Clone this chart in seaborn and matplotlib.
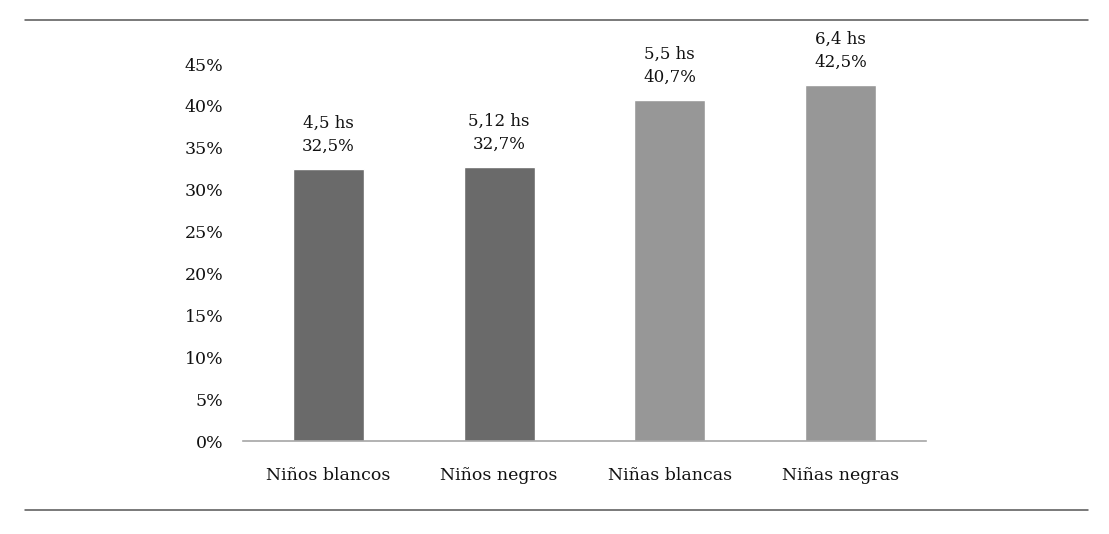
import matplotlib
matplotlib.use("Agg")
import matplotlib.pyplot as plt
import seaborn as sns
import pandas as pd
from matplotlib.ticker import FuncFormatter
from matplotlib.lines import Line2D

categorias = ["Niños blancos", "Niños negros", "Niñas blancas", "Niñas negras"]
porcentajes = [32.5, 32.7, 40.7, 42.5]
horas = ["4,5 hs", "5,12 hs", "5,5 hs", "6,4 hs"]
colores = ["#6a6a6a", "#6a6a6a", "#979797", "#979797"]

df = pd.DataFrame({"Grupo": categorias, "Pct": porcentajes})

sns.set_style("white")
plt.rcParams["font.family"] = ["DejaVu Serif"]

fig = plt.figure(figsize=(11.09, 5.34), dpi=100)
ax = fig.add_axes([243 / 1109, 1 - 441 / 534, 683 / 1109, 377 / 534])

sns.barplot(data=df, x="Grupo", y="Pct", hue="Grupo", palette=colores,
            width=0.415, legend=False, ax=ax, saturation=1)

for i, (p, h) in enumerate(zip(porcentajes, horas)):
    ax.annotate(f"{h}\n{p:.1f}%".replace(".", ","), xy=(i, p), xytext=(0, 10),
                textcoords="offset points", ha="center", va="bottom",
                fontsize=12, color="#111111", linespacing=1.5,
                annotation_clip=False)

ax.set_ylim(0, 45)
ax.set_xlim(-0.5, 3.5)
ax.set_yticks(range(0, 46, 5))
ax.yaxis.set_major_formatter(FuncFormatter(lambda v, _: f"{v:.0f}%"))
ax.set_xlabel("")
ax.set_ylabel("")
ax.tick_params(axis="both", length=0, labelsize=12.5, colors="#111111")
ax.tick_params(axis="y", pad=14)
ax.tick_params(axis="x", pad=19)
for s in ["top", "right", "left"]:
    ax.spines[s].set_visible(False)
ax.spines["bottom"].set_color("#a6a6a6")
ax.spines["bottom"].set_linewidth(1.2)

for yy in [1 - 20 / 534, 1 - 510 / 534]:
    fig.add_artist(Line2D([25 / 1109, 1088 / 1109], [yy, yy],
                          color="#555555", linewidth=1.1))

fig.savefig("out.png", dpi=100)
